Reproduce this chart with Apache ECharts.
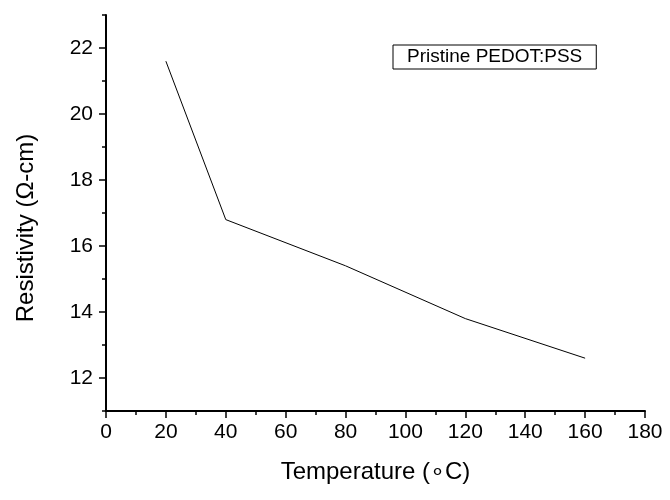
<!DOCTYPE html>
<html>
<head>
<meta charset="utf-8">
<script src="https://cdn.jsdelivr.net/npm/echarts@6/dist/echarts.min.js"></script>
<style>
  html, body { margin: 0; padding: 0; background: #fff; }
  #chart { width: 670px; height: 500px; }
</style>
</head>
<body>
<div id="chart"></div>
<script>
// temperature (°C) vs resistivity (Ω-cm)
const temperatures = [20, 40, 80, 120, 160]
const resistivity = [21.6, 16.8, 15.4, 13.8, 12.6]
const seriesName = 'Pristine PEDOT:PSS'
const yMajorTicks = [12, 14, 16, 18, 20, 22]
const yMinorTicks = [11, 13, 15, 17, 19, 21, 23]

const font = 'Liberation Sans, Arial, sans-serif'
const chart = echarts.init(document.getElementById('chart'))

chart.setOption({
  animation: false,
  grid: { left: 106, right: 25, top: 15, bottom: 89 },
  legend: {
    data: [seriesName],
    left: 393,
    top: 45,
    icon: 'none',
    itemWidth: 0,
    itemHeight: 0,
    padding: [2, 14, 2, 9],
    borderColor: '#000',
    borderWidth: 1,
    textStyle: { fontFamily: font, fontSize: 19, color: '#000', lineHeight: 20 }
  },
  xAxis: {
    type: 'value',
    min: 0,
    max: 180,
    interval: 20,
    name: 'Temperature (\u2218C)',
    nameLocation: 'middle',
    nameGap: 49,
    nameTextStyle: { fontFamily: font, fontSize: 24, color: '#000' },
    axisLine: { lineStyle: { color: '#000', width: 2 } },
    axisTick: { length: 7, lineStyle: { color: '#000', width: 1.5 } },
    minorTick: { show: true, splitNumber: 2, length: 4, lineStyle: { color: '#000', width: 1.5 } },
    axisLabel: { fontFamily: font, fontSize: 21, color: '#000', margin: 11 },
    splitLine: { show: false }
  },
  yAxis: [
    {
      type: 'value',
      min: 11,
      max: 23,
      axisLine: { show: true, lineStyle: { color: '#000', width: 2 } },
      axisTick: { show: true, length: 7, customValues: yMajorTicks, lineStyle: { color: '#000', width: 1.5 } },
      axisLabel: { fontFamily: font, fontSize: 21, color: '#000', margin: 13, customValues: yMajorTicks },
      splitLine: { show: false }
    },
    {
      // minor ticks only
      type: 'value',
      min: 11,
      max: 23,
      position: 'left',
      axisLine: { show: false },
      axisTick: { show: true, length: 4, customValues: yMinorTicks, lineStyle: { color: '#000', width: 1.5 } },
      axisLabel: { show: false },
      splitLine: { show: false }
    }
  ],
  graphic: [
    {
      type: 'text',
      x: 26,
      y: 228,
      rotation: Math.PI / 2,
      style: {
        text: 'Resistivity (\u03A9-cm)',
        fontFamily: font,
        fontSize: 24,
        fill: '#000',
        align: 'center',
        verticalAlign: 'middle'
      }
    }
  ],
  series: [
    {
      name: seriesName,
      type: 'line',
      data: temperatures.map((t, i) => [t, resistivity[i]]),
      symbol: 'none',
      lineStyle: { color: '#000', width: 1 },
      itemStyle: { color: '#000' }
    }
  ]
})
</script>
</body>
</html>
